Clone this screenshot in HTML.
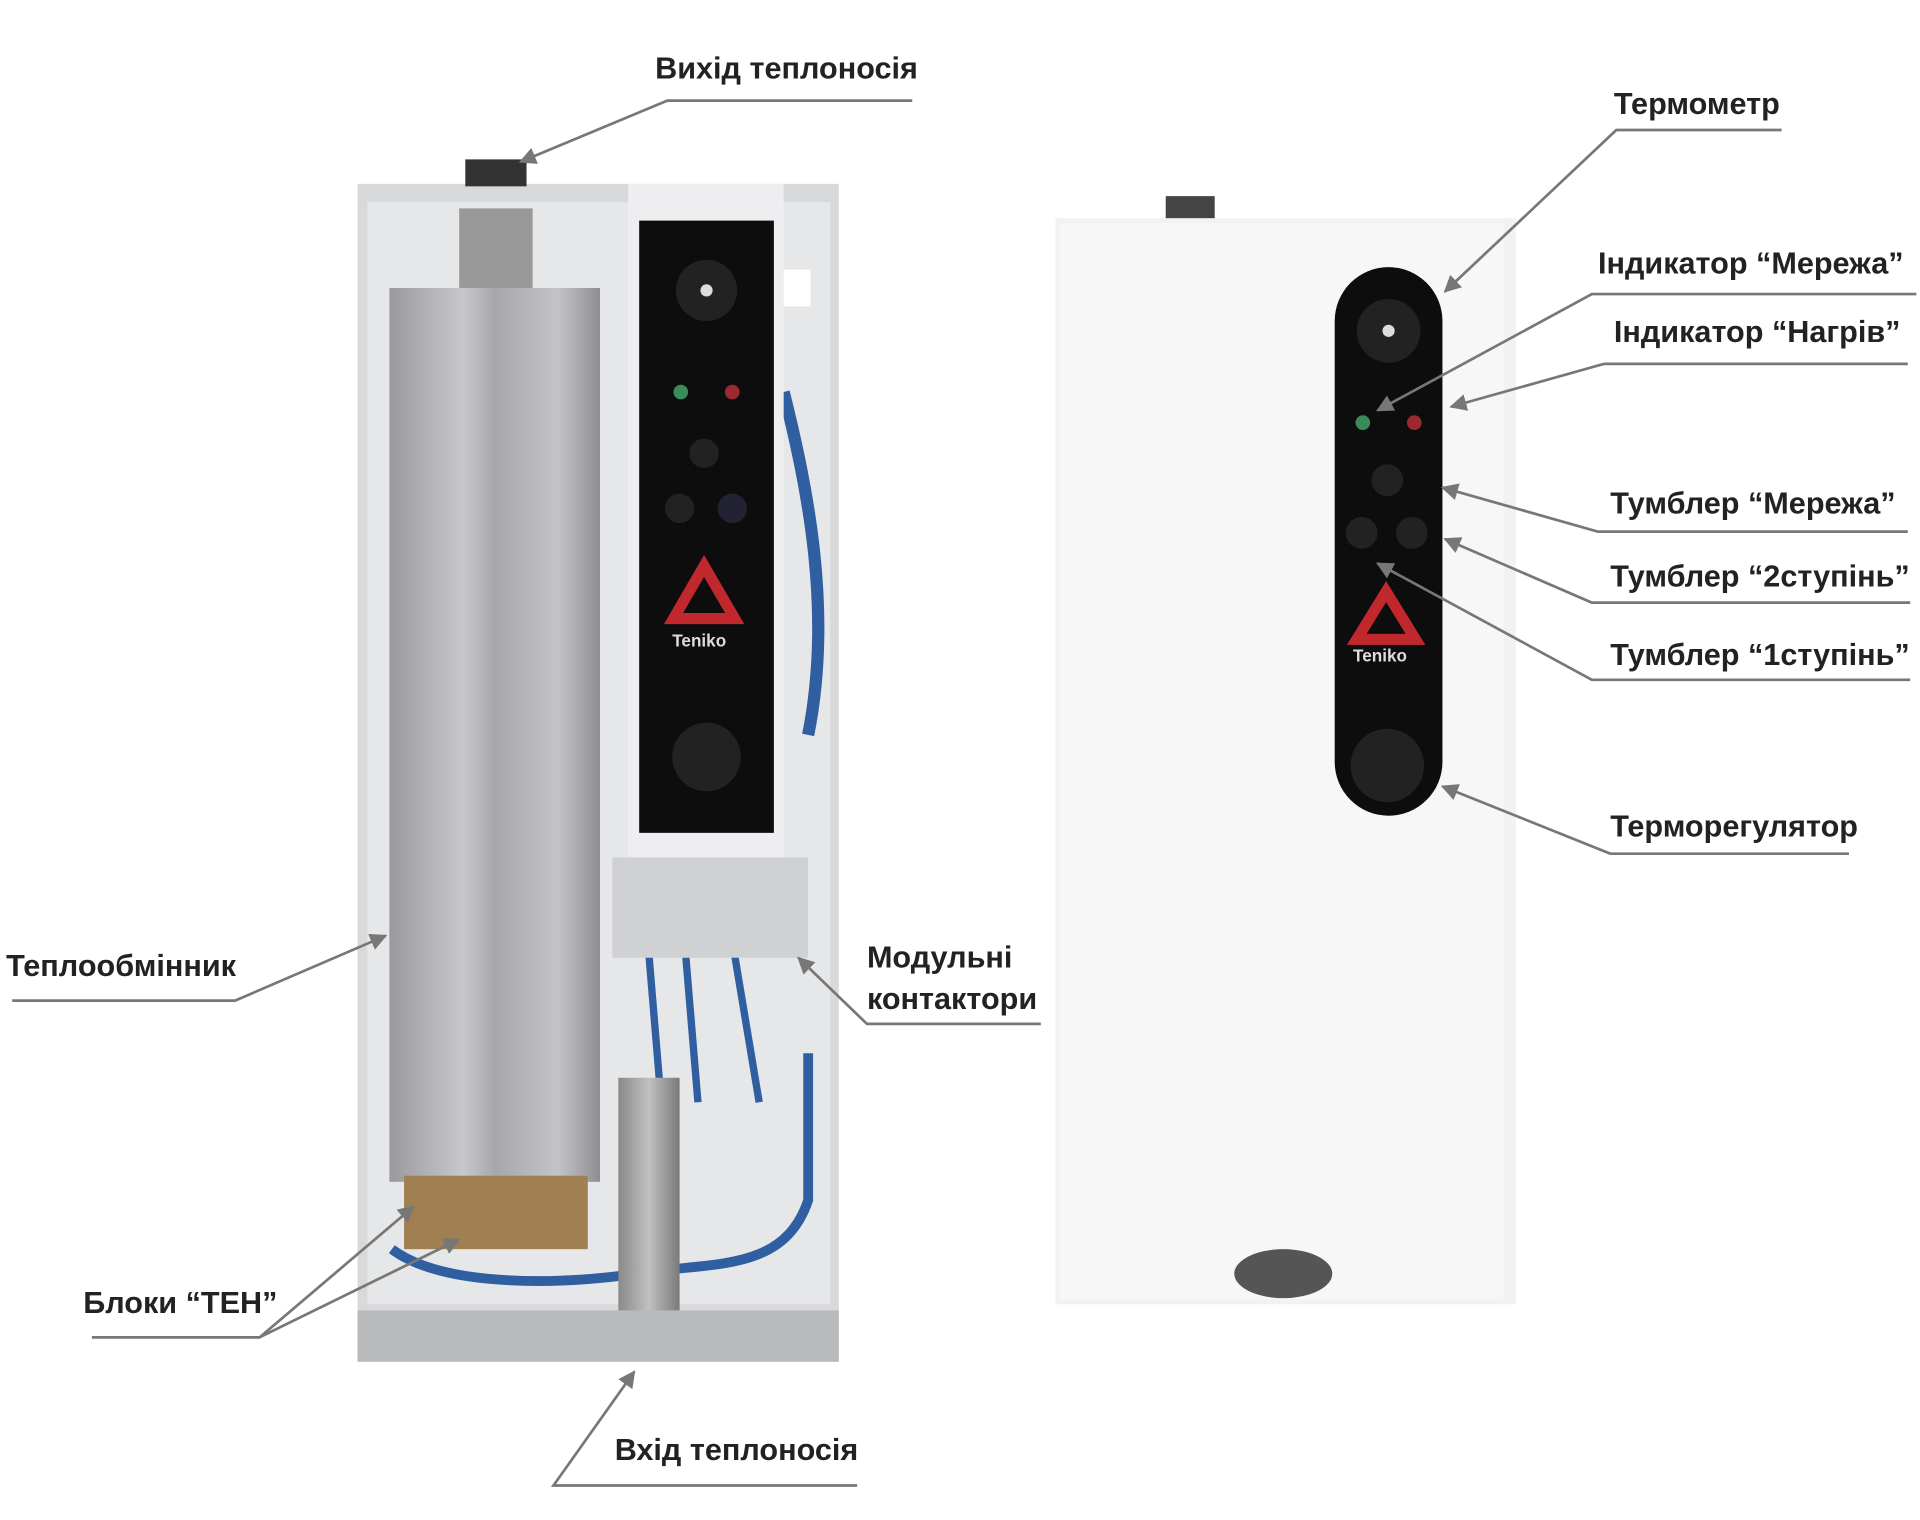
<!DOCTYPE html>
<html><head><meta charset="utf-8"><style>
html,body{margin:0;padding:0;background:#fff;width:1920px;height:1520px;overflow:hidden}
text{font-family:"Liberation Sans",sans-serif;font-weight:bold;font-size:25px;fill:#222}
</style></head><body>
<svg width="1920" height="1520" viewBox="0 0 1568 1241" xmlns="http://www.w3.org/2000/svg">
<defs>
<marker id="a" viewBox="0 0 10 10" refX="9" refY="5" markerWidth="14" markerHeight="14" markerUnits="userSpaceOnUse" orient="auto"><path d="M0,0L10,5L0,10z" fill="#777"/></marker>
<linearGradient id="hx" x1="0" x2="1"><stop offset="0" stop-color="#9a9a9c"/><stop offset=".35" stop-color="#c8c8ca"/><stop offset=".5" stop-color="#a8a8aa"/><stop offset=".8" stop-color="#c4c4c6"/><stop offset="1" stop-color="#8e8e90"/></linearGradient>
<linearGradient id="pp" x1="0" x2="1"><stop offset="0" stop-color="#8a8a8a"/><stop offset=".5" stop-color="#c0c0c0"/><stop offset="1" stop-color="#7a7a7a"/></linearGradient>
</defs>
<!-- left boiler -->
<rect x="292" y="150" width="393" height="960" fill="#d8d9db"/>
<rect x="300" y="165" width="378" height="900" fill="#e6e7e9"/>
<rect x="380" y="130" width="50" height="22" fill="#333"/>
<rect x="375" y="170" width="60" height="70" fill="#999"/>
<rect x="318" y="235" width="172" height="730" fill="url(#hx)"/>
<rect x="330" y="960" width="150" height="60" fill="#a08050"/>
<path d="M320,1020 C360,1050 450,1050 520,1040 C580,1030 640,1040 660,980 L660,860" stroke="#2f5fa0" stroke-width="8" fill="none"/>
<path d="M530,780 L540,900 M560,780 L570,900 M600,780 L620,900" stroke="#2f5fa0" stroke-width="6" fill="none"/>
<path d="M640,320 C660,400 680,500 660,600" stroke="#2f5fa0" stroke-width="10" fill="none"/>
<rect x="505" y="880" width="50" height="200" fill="url(#pp)"/>
<rect x="292" y="1070" width="393" height="42" fill="#b9babc"/>
<rect x="513" y="150" width="127" height="550" fill="#eeeef0"/>
<rect x="522" y="180" width="110" height="500" fill="#0d0d0e"/>
<circle cx="577" cy="237" r="25" fill="#222"/><circle cx="577" cy="237" r="5" fill="#ddd"/>
<circle cx="556" cy="320" r="6" fill="#3a8a5a"/><circle cx="598" cy="320" r="6" fill="#9a2a30"/>
<circle cx="575" cy="370" r="12" fill="#222"/><circle cx="555" cy="415" r="12" fill="#222"/><circle cx="598" cy="415" r="12" fill="#223"/>
<path d="M575,462 L600,505 L550,505z" fill="none" stroke="#c0282e" stroke-width="9"/>
<text x="549" y="528" style="font-size:14px;fill:#ddd">Teniko</text>
<circle cx="577" cy="618" r="28" fill="#222"/>
<rect x="500" y="700" width="160" height="82" fill="#d0d1d3"/>
<rect x="640" y="220" width="22" height="30" fill="#fff"/>
<!-- right boiler -->
<rect x="952" y="160" width="40" height="20" fill="#444"/>
<rect x="862" y="178" width="376" height="887" fill="#f2f2f3"/>
<rect x="866" y="182" width="362" height="879" fill="#f7f7f8"/>
<rect x="1090" y="218" width="88" height="448" rx="44" fill="#0d0d0e"/>
<circle cx="1134" cy="270" r="26" fill="#222"/><circle cx="1134" cy="270" r="5" fill="#ddd"/>
<circle cx="1113" cy="345" r="6" fill="#3a8a5a"/><circle cx="1155" cy="345" r="6" fill="#9a2a30"/>
<circle cx="1133" cy="392" r="13" fill="#222"/><circle cx="1112" cy="435" r="13" fill="#222"/><circle cx="1153" cy="435" r="13" fill="#222"/>
<path d="M1132,483 L1156,522 L1108,522z" fill="none" stroke="#c0282e" stroke-width="9"/>
<text x="1105" y="540" style="font-size:14px;fill:#ddd">Teniko</text>
<circle cx="1133" cy="625" r="30" fill="#222"/>
<ellipse cx="1048" cy="1040" rx="40" ry="20" fill="#555"/>
<!-- lines -->
<g stroke="#777" stroke-width="2.2" fill="none">
<path d="M745,82 L545,82 L425,132" marker-end="url(#a)"/>
<path d="M1455,106 L1320,106 L1180,238" marker-end="url(#a)"/>
<path d="M1565,240 L1300,240 L1125,335" marker-end="url(#a)"/>
<path d="M1558,297 L1310,297 L1185,332" marker-end="url(#a)"/>
<path d="M1558,434 L1305,434 L1178,398" marker-end="url(#a)"/>
<path d="M1560,492 L1300,492 L1180,440" marker-end="url(#a)"/>
<path d="M1560,555 L1300,555 L1125,460" marker-end="url(#a)"/>
<path d="M1510,697 L1315,697 L1178,642" marker-end="url(#a)"/>
<path d="M10,817 L192,817 L315,764" marker-end="url(#a)"/>
<path d="M850,836 L708,836 L652,782" marker-end="url(#a)"/>
<path d="M75,1092 L212,1092 L338,985" marker-end="url(#a)"/>
<path d="M212,1092 L375,1012" marker-end="url(#a)"/>
<path d="M700,1213 L452,1213 L518,1120" marker-end="url(#a)"/>
</g>
<text x="535" y="64">Вихід теплоносія</text>
<text x="1318" y="93">Термометр</text>
<text x="1305" y="223">Індикатор “Мережа”</text>
<text x="1318" y="279">Індикатор “Нагрів”</text>
<text x="1315" y="419">Тумблер “Мережа”</text>
<text x="1315" y="479">Тумблер “2ступінь”</text>
<text x="1315" y="543">Тумблер “1ступінь”</text>
<text x="1315" y="683">Терморегулятор</text>
<text x="5" y="797">Теплообмінник</text>
<text x="708" y="790">Модульні</text>
<text x="708" y="824">контактори</text>
<text x="68" y="1072">Блоки “ТЕН”</text>
<text x="502" y="1192">Вхід теплоносія</text>
</svg>
</body></html>
